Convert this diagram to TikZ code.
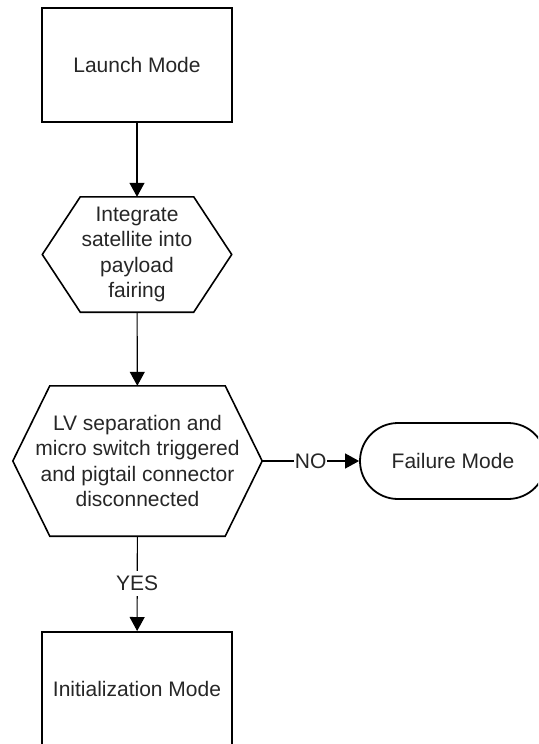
\documentclass[tikz,border=0pt]{standalone}
\usepackage{fontspec}
\setmainfont{Liberation Sans}
\usetikzlibrary{arrows.meta}

\begin{document}
\begin{tikzpicture}[x=1pt,y=-1pt,
  every node/.style={font=\fontsize{21}{25.5}\selectfont, text=black!85,
    align=center, inner sep=0pt},
  modebox/.style={draw, line width=2pt, minimum width=190pt, minimum height=114pt},
  hexarea/.style={minimum width=#1},
  hexline/.style={draw, line width=1.6pt, line join=miter},
  endbox/.style={draw, line width=1.8pt, rounded corners=38pt,
    minimum width=186pt, minimum height=76pt},
  flow/.style={draw, line width=1.1pt, -{Triangle[length=14pt,width=15pt]}},
  answer/.style={fill=white, inner xsep=1pt, inner ysep=5pt}
]
\useasboundingbox (0,0) rectangle (538,744);
\clip (0,0) rectangle (538,744);

% mode boxes
\node[modebox] (launch) at (137,65) {Launch Mode};
\node[modebox] (init) at (137,689) {Initialization Mode};

% process hexagon
\node[minimum width=189pt, minimum height=115pt] (integ) at (137,254.5)
  {Integrate\\satellite into\\payload\\fairing};
\draw[hexline] (integ.west) -- ([xshift=38pt]integ.north west)
  -- ([xshift=-38pt]integ.north east) -- (integ.east)
  -- ([xshift=-38pt]integ.south east) -- ([xshift=38pt]integ.south west) -- cycle;

% decision hexagon
\node[minimum width=249pt, minimum height=150pt] (decide) at (137.5,461)
  {LV separation and\\micro switch triggered\\and pigtail connector\\disconnected};
\draw[hexline] (decide.west) -- ([xshift=37pt]decide.north west)
  -- ([xshift=-37pt]decide.north east) -- (decide.east)
  -- ([xshift=-37pt]decide.south east) -- ([xshift=37pt]decide.south west) -- cycle;

% terminal
\node[endbox] (fail) at (453,461) {Failure Mode};

% connectors
\draw[flow] (launch) -- (integ);
\draw[flow] (integ) -- (decide);
\draw[flow] (decide) -- node[answer] {NO} (fail);
\draw[flow] (decide) -- node[answer] {YES} (init);
\end{tikzpicture}
\end{document}
